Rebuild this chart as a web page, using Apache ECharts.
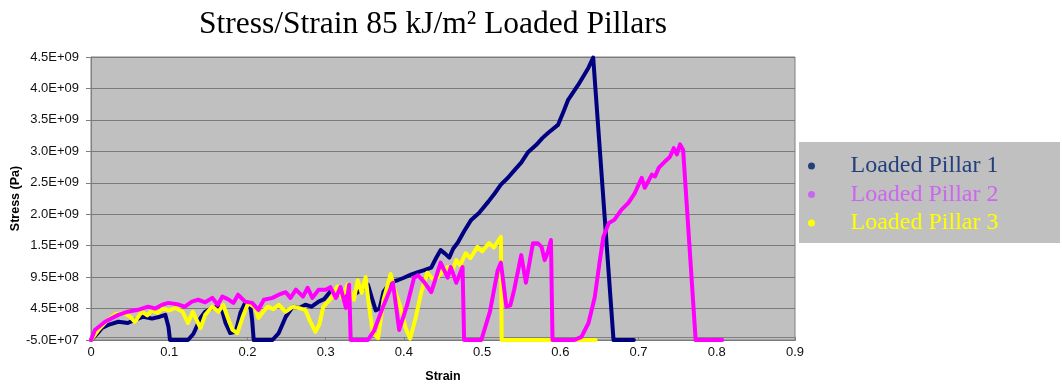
<!DOCTYPE html>
<html>
<head>
<meta charset="utf-8">
<script src="https://cdn.jsdelivr.net/npm/echarts@6/dist/echarts.min.js"></script>
<style>
  html, body { margin: 0; padding: 0; background: #ffffff; }
  #chart { width: 1062px; height: 385px; }
</style>
</head>
<body>
<div id="chart"></div>
<script>
// Stress/strain curves of three loaded pillars; stress values are in GPa.
const seriesNames = ['Loaded Pillar 1', 'Loaded Pillar 2', 'Loaded Pillar 3'];

const strain1 = [0, 0.008, 0.014, 0.022, 0.035, 0.047, 0.056, 0.067, 0.078, 0.088, 0.095, 0.099, 0.101, 0.112, 0.124, 0.131, 0.14, 0.146, 0.155, 0.163, 0.168, 0.172, 0.178, 0.185, 0.191, 0.197, 0.204, 0.206, 0.208, 0.22, 0.232, 0.24, 0.249, 0.258, 0.266, 0.274, 0.282, 0.291, 0.298, 0.306, 0.313, 0.322, 0.332, 0.342, 0.354, 0.359, 0.364, 0.369, 0.374, 0.383, 0.392, 0.4, 0.409, 0.418, 0.426, 0.435, 0.441, 0.447, 0.453, 0.458, 0.463, 0.469, 0.477, 0.486, 0.496, 0.508, 0.516, 0.524, 0.533, 0.542, 0.55, 0.559, 0.569, 0.577, 0.585, 0.597, 0.604, 0.61, 0.623, 0.636, 0.642, 0.668, 0.694];
const stress1 = [-0.05, 0.05, 0.14, 0.19, 0.24, 0.22, 0.27, 0.32, 0.29, 0.32, 0.35, 0.16, -0.05, -0.05, -0.05, 0.05, 0.3, 0.4, 0.46, 0.48, 0.4, 0.22, 0.06, 0.08, 0.38, 0.54, 0.46, 0.27, -0.05, -0.05, -0.05, 0.06, 0.32, 0.48, 0.46, 0.51, 0.48, 0.56, 0.6, 0.72, 0.66, 0.7, 0.63, 0.72, 0.83, 0.62, 0.42, 0.45, 0.72, 0.87, 0.9, 0.94, 0.99, 1.03, 1.06, 1.1, 1.25, 1.38, 1.32, 1.26, 1.4, 1.5, 1.68, 1.86, 1.97, 2.15, 2.28, 2.42, 2.53, 2.66, 2.77, 2.94, 3.05, 3.16, 3.25, 3.37, 3.58, 3.77, 4.01, 4.28, 4.44, -0.05, -0.05];

const strain2 = [0, 0.005, 0.018, 0.027, 0.035, 0.047, 0.06, 0.073, 0.082, 0.091, 0.099, 0.11, 0.12, 0.129, 0.137, 0.146, 0.155, 0.162, 0.168, 0.175, 0.182, 0.188, 0.197, 0.206, 0.214, 0.221, 0.232, 0.24, 0.249, 0.255, 0.262, 0.271, 0.277, 0.283, 0.291, 0.3, 0.306, 0.313, 0.319, 0.326, 0.33, 0.332, 0.354, 0.362, 0.374, 0.386, 0.394, 0.404, 0.413, 0.418, 0.426, 0.435, 0.447, 0.456, 0.46, 0.467, 0.475, 0.477, 0.499, 0.51, 0.52, 0.524, 0.531, 0.536, 0.541, 0.55, 0.556, 0.565, 0.571, 0.576, 0.58, 0.584, 0.588, 0.59, 0.618, 0.627, 0.636, 0.644, 0.65, 0.655, 0.662, 0.669, 0.678, 0.687, 0.695, 0.704, 0.708, 0.717, 0.721, 0.726, 0.733, 0.74, 0.745, 0.749, 0.753, 0.757, 0.773, 0.807];
const stress2 = [-0.05, 0.11, 0.24, 0.3, 0.35, 0.4, 0.43, 0.48, 0.45, 0.51, 0.54, 0.52, 0.48, 0.56, 0.59, 0.55, 0.62, 0.51, 0.64, 0.6, 0.54, 0.67, 0.56, 0.54, 0.43, 0.59, 0.62, 0.67, 0.71, 0.62, 0.75, 0.64, 0.78, 0.62, 0.75, 0.75, 0.79, 0.62, 0.79, 0.46, 0.83, -0.05, -0.05, 0.1, 0.5, 0.86, 0.11, 0.5, 0.94, 0.98, 0.87, 0.71, 1.18, 0.94, 1.11, 0.86, 1.11, -0.05, -0.05, 0.4, 1.06, 1.18, 0.48, 0.5, 0.75, 1.3, 0.86, 1.49, 1.49, 1.43, 1.22, 1.35, 1.54, -0.05, -0.05, 0.0, 0.22, 0.63, 1.17, 1.59, 1.81, 1.86, 2.02, 2.13, 2.28, 2.53, 2.37, 2.58, 2.55, 2.69, 2.78, 2.86, 3.0, 2.9, 3.06, 2.97, -0.05, -0.05];

const strain3 = [0, 0.01, 0.02, 0.031, 0.042, 0.05, 0.056, 0.065, 0.072, 0.078, 0.085, 0.092, 0.1, 0.108, 0.117, 0.124, 0.13, 0.14, 0.146, 0.155, 0.163, 0.169, 0.175, 0.181, 0.187, 0.194, 0.201, 0.21, 0.214, 0.22, 0.226, 0.233, 0.24, 0.249, 0.258, 0.265, 0.274, 0.28, 0.287, 0.292, 0.297, 0.306, 0.315, 0.321, 0.328, 0.336, 0.341, 0.346, 0.351, 0.355, 0.36, 0.367, 0.374, 0.383, 0.388, 0.395, 0.402, 0.408, 0.415, 0.422, 0.43, 0.437, 0.443, 0.45, 0.456, 0.461, 0.467, 0.472, 0.479, 0.485, 0.494, 0.5, 0.509, 0.515, 0.524, 0.525, 0.645];
const stress3 = [-0.05, 0.12, 0.25, 0.36, 0.38, 0.32, 0.24, 0.4, 0.34, 0.42, 0.38, 0.45, 0.42, 0.46, 0.4, 0.22, 0.4, 0.14, 0.35, 0.48, 0.4, 0.51, 0.3, 0.11, 0.06, 0.32, 0.54, 0.46, 0.3, 0.4, 0.48, 0.44, 0.51, 0.4, 0.48, 0.46, 0.43, 0.25, 0.08, 0.2, 0.48, 0.6, 0.8, 0.62, 0.83, 0.59, 0.9, 0.7, 0.95, 0.54, 0.08, -0.02, 0.59, 1.0, 0.75, 0.5, 0.15, -0.03, 0.3, 0.7, 1.02, 0.92, 0.95, 1.05, 1.11, 1.02, 1.22, 1.14, 1.33, 1.25, 1.43, 1.36, 1.49, 1.42, 1.59, -0.05, -0.05];

const xTickLabels = ['0', '0.1', '0.2', '0.3', '0.4', '0.5', '0.6', '0.7', '0.8', '0.9'];
const yTickValues = [-5e7, 4.5e8, 9.5e8, 1.45e9, 1.95e9, 2.45e9, 2.95e9, 3.45e9, 3.95e9, 4.45e9];
const yTickLabels = ['-5.0E+07', '4.5E+08', '9.5E+08', '1.5E+09', '2.0E+09', '2.5E+09', '3.0E+09', '3.5E+09', '4.0E+09', '4.5E+09'];

const lineColors = ['#000080', '#ff00ff', '#ffff00'];
const legendTextColors = ['#24407c', '#cc66f0', '#ffff00'];
const legendDotColors = ['#24407c', '#cc66f0', '#ffff00'];

function toPoints(strain, stressGPa) {
  return strain.map((s, i) => [s, stressGPa[i] * 1e9]);
}

function yLabel(v) {
  let best = 0;
  for (let i = 1; i < yTickValues.length; i++) {
    if (Math.abs(yTickValues[i] - v) < Math.abs(yTickValues[best] - v)) best = i;
  }
  return yTickLabels[best];
}

const serif = "'Times New Roman', 'Liberation Serif', serif";
const sans = "Arial, 'Liberation Sans', sans-serif";

const chart = echarts.init(document.getElementById('chart'), null, { renderer: 'canvas' });

function lineSeries(idx, strain, stress) {
  return {
    name: seriesNames[idx],
    type: 'line',
    data: toPoints(strain, stress),
    showSymbol: false,
    symbol: 'none',
    smooth: false,
    lineStyle: { color: lineColors[idx], width: 4, join: 'round', cap: 'round' },
    itemStyle: { color: lineColors[idx] },
    emphasis: { disabled: true },
    animation: false
  };
}

chart.setOption({
  animation: false,
  backgroundColor: '#ffffff',
  title: {
    text: 'Stress/Strain 85 kJ/m² Loaded Pillars',
    left: 428,
    top: 4,
    textAlign: 'center',
    textStyle: { fontFamily: serif, fontSize: 31.5, fontWeight: 'normal', color: '#000000' }
  },
  graphic: [{
    type: 'rect',
    left: 799,
    top: 142,
    z: -1,
    shape: { width: 261, height: 101 },
    style: { fill: '#c0c0c0' }
  }],
  legend: {
    orient: 'vertical',
    left: 808,
    top: 154,
    padding: 0,
    itemWidth: 14,
    itemHeight: 7,
    itemGap: 4.5,
    icon: 'circle',
    selectedMode: false,
    data: seriesNames.map((n, i) => ({
      name: n,
      itemStyle: { color: legendDotColors[i] },
      textStyle: { color: legendTextColors[i] }
    })),
    formatter: name => '{gap|}' + name,
    textStyle: {
      fontFamily: serif,
      fontSize: 24,
      lineHeight: 24,
      rich: { gap: { width: 27 } }
    }
  },
  grid: {
    left: 91,
    right: 267,
    top: 57,
    bottom: 45,
    outerBoundsMode: 'none',
    containLabel: false,
    show: true,
    backgroundColor: '#c0c0c0',
    borderColor: '#808080',
    borderWidth: 1
  },
  xAxis: {
    type: 'value',
    min: 0,
    max: 0.9,
    interval: 0.1,
    name: 'Strain',
    nameLocation: 'middle',
    nameGap: 30,
    nameMoveOverlap: false,
    nameTextStyle: { fontFamily: sans, fontSize: 12.5, fontWeight: 'bold', color: '#000000' },
    axisLine: { show: true, lineStyle: { color: '#808080', width: 1 } },
    axisTick: { show: true, inside: false, length: 4, lineStyle: { color: '#808080' } },
    axisLabel: {
      fontFamily: sans, fontSize: 13, color: '#111111', margin: 6,
      formatter: (v, i) => xTickLabels[i] !== undefined ? xTickLabels[i] : String(v)
    },
    splitLine: { show: false }
  },
  yAxis: {
    type: 'value',
    min: -5e7,
    max: 4.45e9,
    interval: 5e8,
    name: 'Stress (Pa)',
    nameLocation: 'middle',
    nameGap: 69,
    nameMoveOverlap: false,
    nameRotate: 90,
    nameTextStyle: { fontFamily: sans, fontSize: 12.5, fontWeight: 'bold', color: '#000000' },
    axisLine: { show: true, lineStyle: { color: '#808080', width: 1 } },
    axisTick: { show: true, inside: false, length: 5, lineStyle: { color: '#808080' } },
    axisLabel: { fontFamily: sans, fontSize: 13, color: '#111111', margin: 12, formatter: v => yLabel(v) },
    splitLine: { show: true, lineStyle: { color: '#7a7a7a', width: 1 } }
  },
  series: [
    lineSeries(0, strain1, stress1),
    lineSeries(2, strain3, stress3),
    lineSeries(1, strain2, stress2)
  ]
});
</script>
</body>
</html>
